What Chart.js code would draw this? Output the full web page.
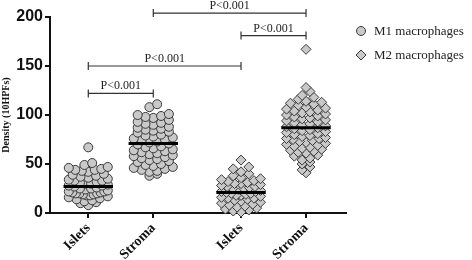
<!DOCTYPE html>
<html>
<head>
<meta charset="utf-8">
<script src="https://cdn.jsdelivr.net/npm/chart.js@4"></script>
<style>
  html, body { margin: 0; padding: 0; background: #fff; }
  #wrap { width: 472px; height: 260px; }
</style>
</head>
<body>
<div id="wrap"><canvas id="canvas"></canvas></div>
<script>
// categories along the x axis (M1 pair, then M2 pair)
const categories = ['Islets', 'Stroma', 'Islets', 'Stroma'];
const seriesNames = ['M1 macrophages', 'M2 macrophages'];

// density per case
const m1Islets = [67, 51, 49, 47, 46, 45, 44, 44, 43, 42, 40, 39, 38, 37, 36, 35, 34, 33, 33, 32, 31, 30, 30, 29, 28, 28,
  27, 26, 25, 25, 24, 23, 22, 22, 21, 21, 20, 20, 20, 19, 19, 18, 18, 17, 16, 15, 14, 13, 12, 11, 10, 8];
const m1Stroma = [111, 108, 101, 100, 99, 98, 97, 95, 93, 92, 91, 90, 88, 87, 86, 85, 84, 83, 82, 80, 79, 78, 77, 76, 75,
  74, 73, 72, 71, 70, 68, 67, 66, 65, 64, 63, 62, 61, 60, 59, 58, 57, 56, 55, 54, 53, 52, 50, 49, 48, 47, 46, 45, 44,
  43, 42, 40, 38];
const m2Islets = [54, 47, 45, 42, 40, 38, 36, 35, 34, 33, 32, 31, 30, 30, 29, 28, 27, 27, 26, 25, 25, 24, 23, 22, 22, 21,
  20, 20, 19, 18, 18, 17, 16, 15, 15, 14, 13, 12, 11, 10, 9, 8, 7, 6, 5, 4, 3, 2, 1];
const m2Stroma = [167, 128, 124, 120, 118, 116, 114, 113, 112, 111, 110, 108, 107, 106, 105, 104, 103, 102, 101, 100, 99,
  98, 97, 96, 95, 94, 93, 92, 91, 90, 89, 88, 87, 86, 85, 84, 83, 82, 81, 80, 79, 78, 77, 76, 76, 75, 74, 73, 72, 71,
  70, 69, 68, 67, 66, 65, 64, 63, 62, 61, 59, 58, 56, 54, 52, 50, 47, 44, 41];

// group means (the black bars)
const means = [27, 71, 21, 87];

// significance brackets: from category, to category, height, label
const bracketFrom = [0, 0, 2, 1];
const bracketTo = [1, 2, 3, 3];
const bracketY = [122, 150, 181, 204];
const bracketLabel = ['P<0.001', 'P<0.001', 'P<0.001', 'P<0.001'];

const yTicks = [0, 50, 100, 150, 200];

// layout: where each category sits on the linear x scale
const catPos = [1, 2, 3.35, 4.35];
const fill = '#c9c9c9';
const edge = '#3a3a3a';
const serif = "'Liberation Serif', 'Times New Roman', serif";
const sans = "'Liberation Sans', Arial, sans-serif";

// graphpad-like column scatter: bin values, spread each bin sideways,
// squeezing crowded bins so the column keeps its width
function swarm(values, cx) {
  const bin = 6, step = 0.12, maxSpan = 0.6;
  const groups = {};
  values.forEach(v => {
    const k = Math.floor(v / bin);
    (groups[k] = groups[k] || []).push(v);
  });
  const out = [];
  Object.values(groups).forEach(g => {
    g.sort((a, b) => a - b);
    const n = g.length;
    const s = n > 1 ? Math.min(step, maxSpan / (n - 1)) : step;
    g.forEach((v, i) => {
      let off;
      if (n % 2) off = i === 0 ? 0 : Math.ceil(i / 2) * (i % 2 ? -1 : 1);
      else off = (Math.floor(i / 2) + 0.5) * (i % 2 ? 1 : -1);
      out.push({ x: cx + off * s, y: v });
    });
  });
  return out;
}

const meanSets = means.map((m, i) => ({
  type: 'line',
  data: [{ x: catPos[i] - 0.38, y: m }, { x: catPos[i] + 0.38, y: m }],
  borderColor: '#000',
  borderWidth: 3,
  pointRadius: 0,
  order: 0,
  clip: false
}));

const extras = {
  id: 'extras',
  afterDatasetsDraw(chart) {
    const ctx = chart.ctx;
    const x = chart.scales.x, y = chart.scales.y;
    ctx.save();
    ctx.strokeStyle = '#333';
    ctx.lineWidth = 1.2;
    ctx.fillStyle = '#222';
    ctx.font = '12px ' + serif;
    ctx.textAlign = 'center';
    ctx.textBaseline = 'alphabetic';
    bracketY.forEach((v, i) => {
      const x1 = x.getPixelForValue(catPos[bracketFrom[i]]);
      const x2 = x.getPixelForValue(catPos[bracketTo[i]]);
      const py = y.getPixelForValue(v);
      ctx.beginPath();
      ctx.moveTo(x1, py); ctx.lineTo(x2, py);
      ctx.moveTo(x1, py - 4); ctx.lineTo(x1, py + 4);
      ctx.moveTo(x2, py - 4); ctx.lineTo(x2, py + 4);
      ctx.stroke();
      ctx.fillText(bracketLabel[i], (x1 + x2) / 2, py - 4);
    });

    // legend
    const lx = 361, ly = [31, 55];
    ctx.font = '13px ' + serif;
    ctx.textAlign = 'left';
    ctx.textBaseline = 'middle';
    seriesNames.forEach((name, i) => {
      ctx.fillStyle = fill;
      ctx.strokeStyle = edge;
      ctx.lineWidth = 1;
      ctx.beginPath();
      if (i === 0) ctx.arc(lx, ly[i], 4.5, 0, Math.PI * 2);
      else {
        ctx.moveTo(lx, ly[i] - 5); ctx.lineTo(lx + 5, ly[i]);
        ctx.lineTo(lx, ly[i] + 5); ctx.lineTo(lx - 5, ly[i]); ctx.closePath();
      }
      ctx.fill(); ctx.stroke();
      ctx.fillStyle = '#222';
      ctx.fillText(name, lx + 13, ly[i] + 1);
    });
    ctx.restore();
  }
};

new Chart(document.getElementById('canvas'), {
  type: 'scatter',
  data: {
    datasets: [
      ...meanSets,
      {
        label: seriesNames[0],
        data: [...swarm(m1Islets, catPos[0]), ...swarm(m1Stroma, catPos[1])],
        pointStyle: 'circle',
        pointRadius: 4.5,
        backgroundColor: fill,
        borderColor: edge,
        borderWidth: 1,
        order: 1,
        clip: false
      },
      {
        label: seriesNames[1],
        data: [...swarm(m2Islets, catPos[2]), ...swarm(m2Stroma, catPos[3])],
        pointStyle: 'rectRot',
        pointRadius: 5,
        backgroundColor: fill,
        borderColor: edge,
        borderWidth: 1,
        order: 1,
        clip: false
      }
    ]
  },
  options: {
    responsive: true,
    maintainAspectRatio: false,
    animation: false,
    layout: { padding: { top: 17, right: 126, left: 0, bottom: 0 } },
    plugins: {
      legend: { display: false },
      tooltip: { enabled: false }
    },
    scales: {
      x: {
        type: 'linear',
        min: 0.411,
        max: 4.965,
        afterBuildTicks: s => { s.ticks = catPos.map(v => ({ value: v })); },
        afterFit: s => { s.height = 47; },
        ticks: {
          callback: v => categories[catPos.indexOf(v)],
          minRotation: 45,
          maxRotation: 45,
          color: '#111',
          padding: 2,
          font: { family: serif, size: 14, weight: 'bold' }
        },
        grid: { drawOnChartArea: false, drawTicks: true, tickLength: 5, color: '#111', lineWidth: 2 },
        border: { color: '#111', width: 2 }
      },
      y: {
        min: 0,
        max: 200,
        afterBuildTicks: s => { s.ticks = yTicks.map(v => ({ value: v })); },
        afterFit: s => { s.width = 50; },
        ticks: {
          color: '#111',
          padding: 2,
          font: { family: sans, size: 16, weight: 'bold' }
        },
        grid: { drawOnChartArea: false, drawTicks: true, tickLength: 5, color: '#111', lineWidth: 2 },
        border: { color: '#111', width: 2 },
        title: {
          display: true,
          text: 'Density (10HPFs)',
          color: '#111',
          padding: { top: 0, bottom: 0 },
          font: { family: serif, size: 10, weight: 'bold' }
        }
      }
    }
  },
  plugins: [extras]
});
</script>
</body>
</html>
